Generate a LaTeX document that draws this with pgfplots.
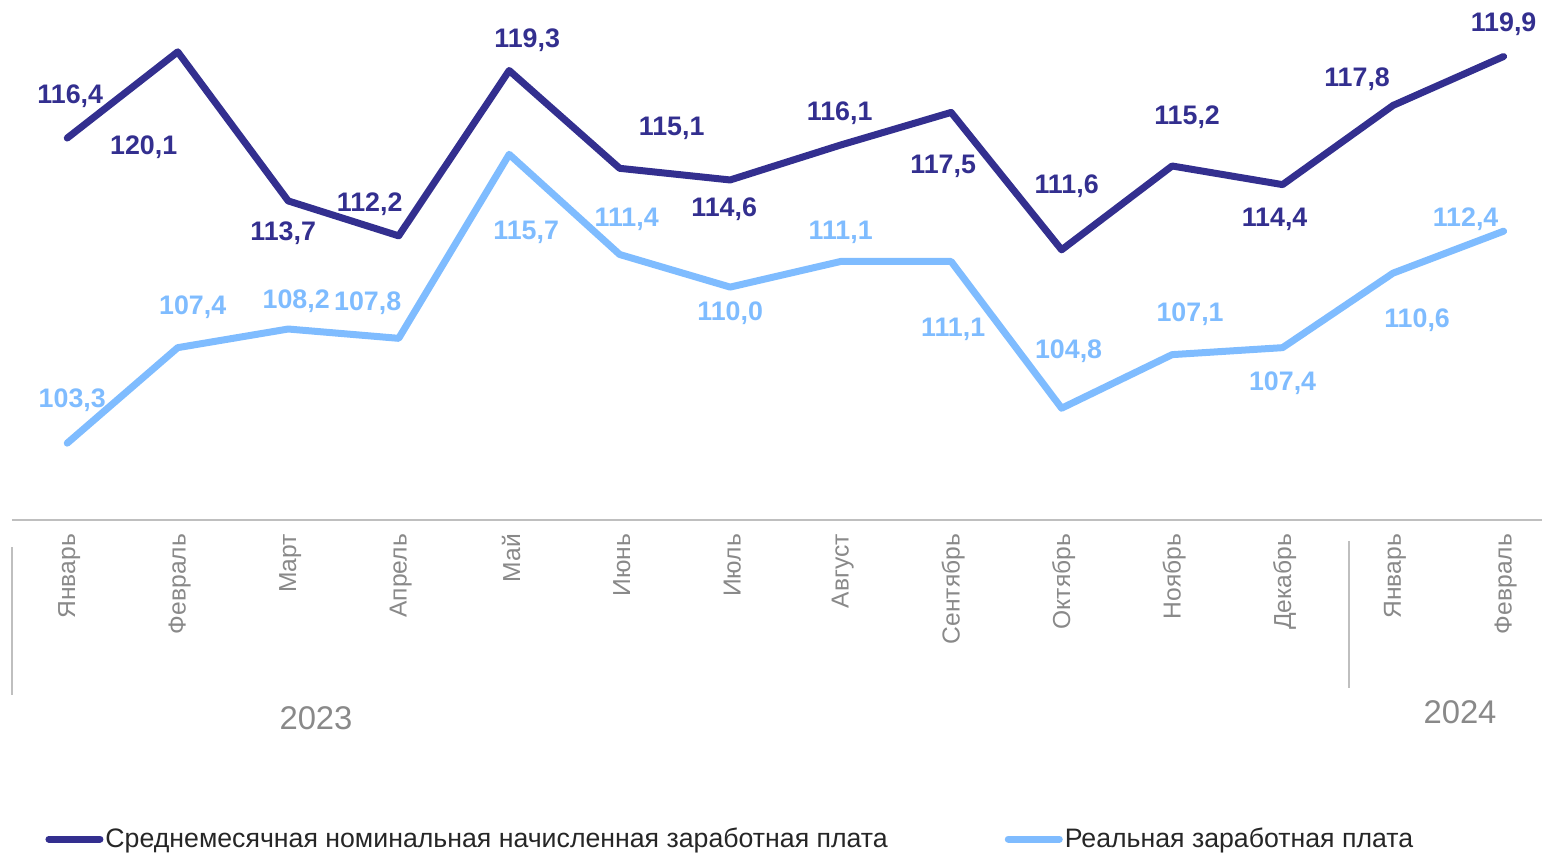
\documentclass[border=0pt]{standalone}
\usepackage{fontspec}
\setmainfont{Liberation Sans}
\usepackage{pgfplots}
\usepackage{pgfplotstable}
\pgfplotsset{compat=1.18}
\definecolor{nomc}{RGB}{51,47,143}
\definecolor{realc}{RGB}{127,188,255}
\definecolor{axgray}{RGB}{191,191,191}
\definecolor{txtgray}{RGB}{137,137,137}
\definecolor{legtxt}{RGB}{38,38,38}

\pgfplotstableread{
x y lab dx dy
0 116.4 116,4 1.5 20.7
1 120.1 120,1 -17 -47.5
2 113.7 113,7 -2.5 -16.2
3 112.2 112,2 -14.5 15.8
4 119.3 119,3 9 15.3
5 115.1 115,1 26 19.9
6 114.6 114,6 -3 -14.7
7 116.1 116,1 -0.5 15.7
8 117.5 117,5 -4 -27.1
9 111.6 111,6 2.5 31.8
10 115.2 115,2 7.5 24.2
11 114.4 114,4 -4 -17.4
12 117.8 117,8 -18 13.3
13 119.9 119,9 0 16.2
}\nominal

\pgfplotstableread{
x y lab dx dy
0 103.3 103,3 2.5 21.4
1 107.4 107,4 7.5 20.4
2 108.2 108,2 4 14.1
3 107.8 107,8 -15.5 17.8
4 115.7 115,7 8.5 -39.1
5 111.4 111,4 3.5 17.7
6 110.0 110,0 0 -13
7 111.1 111,1 0 14.7
8 111.1 111,1 1 -33.8
9 104.8 104,8 3.5 28.4
10 107.1 107,1 9 20
11 107.4 107,4 0 -18
12 110.6 110,6 12 -23.5
13 112.4 112,4 -19 6
}\real

\begin{document}
\begin{tikzpicture}
\begin{axis}[
  at={(0,0)}, anchor=south west,
  scale only axis, width=765pt, height=256.2pt,
  xmin=-0.5, xmax=13.348, ymin=100, ymax=122,
  axis x line*=bottom, axis y line=none,
  axis line style={draw=axgray, line width=1.2pt, -},
  ytick=\empty,
  xtick={0,...,13},
  xticklabels={Январь,Февраль,Март,Апрель,Май,Июнь,Июль,Август,Сентябрь,Октябрь,Ноябрь,Декабрь,Январь,Февраль},
  major tick length=0pt,
  xticklabel style={rotate=90, anchor=east, yshift=-1pt, font=\fontsize{12.3}{14}\selectfont, text=txtgray},
  xticklabel shift=3.5pt,
  clip=false,
  legend columns=2,
  legend cell align=left,
  legend style={at={(0.0216,-0.6226)}, anchor=west, draw=none, fill=none, inner sep=0pt,
    font=\fontsize{13.35}{16}\selectfont, text=legtxt,
    nodes={inner sep=1pt},
    /tikz/every even column/.append style={column sep=57.5pt}},
  legend image code/.code={\draw[#1, line width=3.5pt, line cap=round] (1.75pt,0pt) -- (27.25pt,0pt);},
  nodes near coords,
  point meta=explicit symbolic,
  visualization depends on={\thisrow{dx} \as \dx},
  visualization depends on={\thisrow{dy} \as \dy},
]
\addplot[draw=nomc, line width=3.5pt, line cap=round, line join=round, mark=none,
  every node near coord/.append style={anchor=center, xshift=\dx pt, yshift=\dy pt,
    font=\fontsize{13.4}{16}\selectfont\bfseries, text=nomc}]
  table[x=x, y=y, meta=lab] {\nominal};
\addlegendentry{Среднемесячная номинальная начисленная заработная плата}
\addplot[draw=realc, line width=3.5pt, line cap=round, line join=round, mark=none,
  every node near coord/.append style={anchor=center, xshift=\dx pt, yshift=\dy pt,
    font=\fontsize{13.4}{16}\selectfont\bfseries, text=realc}]
  table[x=x, y=y, meta=lab] {\real};
\addlegendentry{Реальная заработная плата}
\end{axis}
\draw[axgray, line width=1pt] (0pt,-13.5pt) -- (0pt,-87.5pt);
\draw[axgray, line width=1pt] (668.5pt,-10.5pt) -- (668.5pt,-84pt);
\node[font=\fontsize{16.4}{19}\selectfont, text=txtgray] at (152pt,-99pt) {2023};
\node[font=\fontsize{16.4}{19}\selectfont, text=txtgray] at (724pt,-96pt) {2024};
\pgfresetboundingbox
\path[use as bounding box] (-6pt,-166pt) rectangle (765pt,260pt);
\end{tikzpicture}
\end{document}
